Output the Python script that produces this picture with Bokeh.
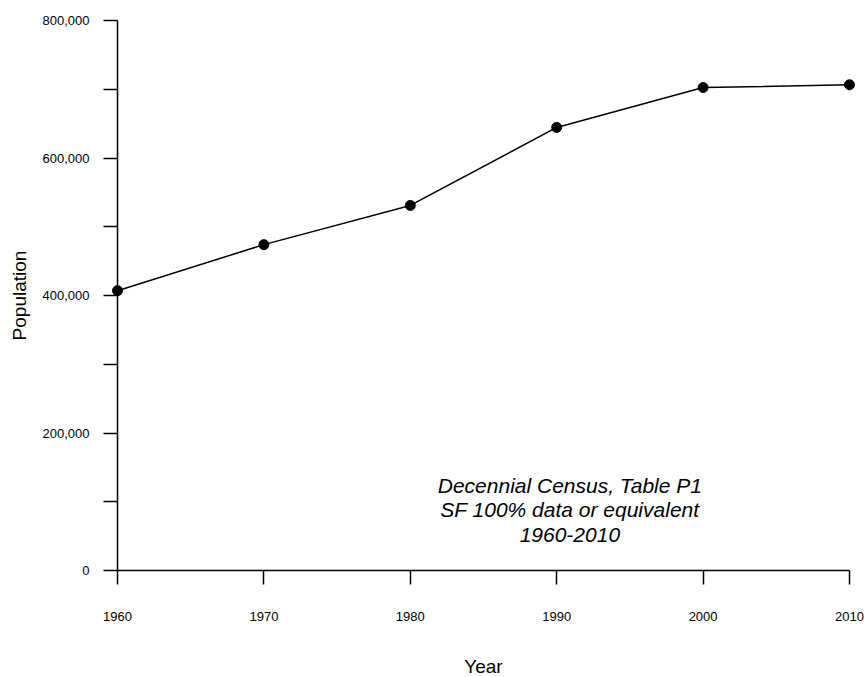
from bokeh.plotting import figure
from bokeh.models import Range1d, FixedTicker, NumeralTickFormatter, Label
from bokeh.embed import file_html
from bokeh.resources import INLINE

# Decennial census population counts
years = [1960, 1970, 1980, 1990, 2000, 2010]
population = [407000, 474000, 531000, 644500, 702500, 706500]

x_ticks = [1960, 1970, 1980, 1990, 2000, 2010]
y_ticks = [0, 200000, 400000, 600000, 800000]
y_minor = [100000, 300000, 500000, 700000]

FONT = "Liberation Sans"

p = figure(
    frame_width=732, frame_height=550,
    min_border_left=117, min_border_right=15,
    min_border_top=20, min_border_bottom=107,
    x_range=Range1d(1960, 2010), y_range=Range1d(0, 800000),
    output_backend="svg", toolbar_location=None,
)
p.outline_line_color = None
p.xgrid.visible = False
p.ygrid.visible = False
p.background_fill_color = "white"
p.border_fill_color = "white"

# axes
for ax in (p.xaxis[0], p.yaxis[0]):
    ax.axis_line_color = "black"
    ax.axis_line_width = 1.5
    ax.major_tick_line_color = "black"
    ax.major_tick_line_width = 1.5
    ax.minor_tick_line_color = "black"
    ax.minor_tick_line_width = 1.5
    ax.major_tick_in = 0
    ax.major_tick_out = 14
    ax.minor_tick_in = 0
    ax.minor_tick_out = 14
    ax.major_label_text_font = FONT
    ax.major_label_text_font_size = "13px"
    ax.major_label_text_color = "black"
    ax.axis_label_text_font = FONT
    ax.axis_label_text_font_style = "normal"
    ax.axis_label_text_font_size = "19px"
    ax.axis_label_text_color = "black"

p.xaxis.ticker = FixedTicker(ticks=x_ticks)
p.xaxis.major_label_standoff = 27
p.xaxis.axis_label = "Year"
p.xaxis.axis_label_standoff = 32

p.yaxis.ticker = FixedTicker(ticks=y_ticks, minor_ticks=y_minor)
p.yaxis.formatter = NumeralTickFormatter(format="0,0")
p.yaxis.major_label_standoff = 14
p.yaxis.axis_label = "Population"
p.yaxis.axis_label_standoff = 10

# population series; markers sit on top so the end points stay whole
p.line(years, population, line_color="black", line_width=1.5)
p.scatter(years, population, size=10, fill_color="black", line_color="black",
          level="overlay")

note = Label(
    x=1990.9, y=88000,
    text="Decennial Census, Table P1\nSF 100% data or equivalent\n1960-2010",
    text_align="center", text_baseline="middle",
    text_font=FONT, text_font_style="italic", text_font_size="21px",
    text_color="black", text_line_height=1.08,
)
p.add_layout(note)

open("out.html", "w").write(file_html(p, INLINE))
